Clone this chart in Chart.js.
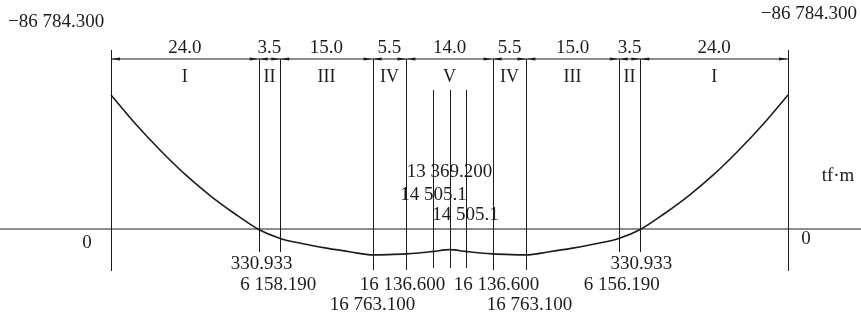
<!DOCTYPE html>
<html>
<head>
<meta charset="utf-8">
<script src="https://cdn.jsdelivr.net/npm/chart.js@4"></script>
<style>
  html, body { margin: 0; padding: 0; background: #fff; }
  #chart { display: block; }
</style>
</head>
<body>
<canvas id="chart" width="861" height="320"></canvas>
<script>
// Span segments (m) and their zone names
const segLengths = [24.0, 3.5, 15.0, 5.5, 14.0, 5.5, 15.0, 3.5, 24.0];
const segNames = ['I', 'II', 'III', 'IV', 'V', 'IV', 'III', 'II', 'I'];

// Bending moment curve (tf·m)
const stations = [0, 4, 8, 12, 16, 20, 24, 27.5, 31, 35, 39, 42.5, 45, 48, 50, 52.4, 55,
                  57.6, 60, 62, 65, 67.5, 71, 75, 79, 82.5, 86, 90, 94, 98, 102, 106, 110];
const moments = [-86784.3, -68000, -51000, -35500, -22000, -10200, 330.933, 6158.19, 9400,
                 12400, 14900, 16763.1, 16600, 16136.6, 15500, 14505.1, 13369.2,
                 14505.1, 15500, 16136.6, 16600, 16763.1, 14900, 12400, 9400, 6156.19,
                 330.933, -10200, -22000, -35500, -51000, -68000, -86784.3];

// Value labels under the axis
const lowStations = [24, 27.5, 42.5, 48, 62, 67.5, 82.5, 86];
const lowLabels = ['330.933', '6 158.190', '16 763.100', '16 136.600',
                   '16 136.600', '16 763.100', '6 156.190', '330.933'];
const lowRows = [0, 1, 2, 1, 1, 2, 1, 0];

// Value labels above the axis in zone V
const innerStations = [52.4, 55, 57.6];
const innerLabels = ['14 505.1', '13 369.200', '14 505.1'];
const innerRows = [1, 0, 2];

const endLabel = '−86 784.300';
const unitLabel = 'tf·m';

const boundaries = [0];
segLengths.forEach(l => boundaries.push(+(boundaries[boundaries.length - 1] + l).toFixed(2)));

const ink = '#1c1c1c';
const serif = '"Liberation Serif", "Times New Roman", serif';

const diagram = {
    id: 'diagram',
    beforeDatasetsDraw(chart) {
        const { ctx, chartArea } = chart;
        const xs = chart.scales.x, ys = chart.scales.y;
        const y0 = ys.getPixelForValue(0);
        const dimY = 59;
        ctx.save();
        ctx.strokeStyle = ink;
        ctx.lineWidth = 1;

        // zero axis
        ctx.beginPath();
        ctx.moveTo(chartArea.left, y0);
        ctx.lineTo(chartArea.right, y0);
        ctx.stroke();

        // dimension line
        const xl = xs.getPixelForValue(boundaries[0]);
        const xr = xs.getPixelForValue(boundaries[boundaries.length - 1]);
        ctx.beginPath();
        ctx.moveTo(xl, dimY);
        ctx.lineTo(xr, dimY);
        ctx.stroke();

        // arrow heads at each boundary
        ctx.fillStyle = ink;
        for (let i = 0; i < segLengths.length; i++) {
            const a = xs.getPixelForValue(boundaries[i]);
            const b = xs.getPixelForValue(boundaries[i + 1]);
            [[a, 1], [b, -1]].forEach(([px, dir]) => {
                ctx.beginPath();
                ctx.moveTo(px, dimY);
                ctx.lineTo(px + dir * 9, dimY - 1.6);
                ctx.lineTo(px + dir * 9, dimY + 1.6);
                ctx.closePath();
                ctx.fill();
            });
        }

        // vertical station lines
        const deep = [42.5, 48, 62, 67.5];
        boundaries.forEach((s, i) => {
            const px = Math.round(xs.getPixelForValue(s)) + 0.5;
            let top = dimY, bottom = 252;
            if (i === 0 || i === boundaries.length - 1) { top = 50; bottom = 271; }
            else if (deep.includes(s)) { bottom = 270; }
            ctx.beginPath();
            ctx.moveTo(px, top);
            ctx.lineTo(px, bottom);
            ctx.stroke();
        });
        innerStations.forEach(s => {
            const px = Math.round(xs.getPixelForValue(s)) + 0.5;
            ctx.beginPath();
            ctx.moveTo(px, 90);
            ctx.lineTo(px, 268);
            ctx.stroke();
        });
        ctx.restore();
    },
    afterDraw(chart) {
        const { ctx } = chart;
        const xs = chart.scales.x, ys = chart.scales.y;
        ctx.save();
        ctx.fillStyle = ink;
        ctx.textAlign = 'center';
        ctx.textBaseline = 'middle';

        // segment lengths and zone names
        for (let i = 0; i < segLengths.length; i++) {
            const mid = xs.getPixelForValue((boundaries[i] + boundaries[i + 1]) / 2);
            ctx.font = '19px ' + serif;
            ctx.fillText(segLengths[i].toFixed(1), mid, 48);
            ctx.font = '18px ' + serif;
            ctx.fillText(segNames[i], mid, 77);
        }

        ctx.font = '19px ' + serif;
        const rowY = [264, 285, 305];
        const nudge = [3, -2, 0, -4, 4, 3, 3, 1];
        lowLabels.forEach((t, i) => {
            ctx.fillText(t, xs.getPixelForValue(lowStations[i]) + nudge[i], rowY[lowRows[i]]);
        });
        const innerY = [172, 195, 215];
        innerLabels.forEach((t, i) => {
            ctx.fillText(t, xs.getPixelForValue(innerStations[i]), innerY[innerRows[i]]);
        });

        // end moments, zeros and unit
        ctx.textAlign = 'left';
        ctx.fillText(endLabel, 8, 22);
        ctx.textAlign = 'right';
        ctx.fillText(endLabel, 857, 14);
        ctx.textAlign = 'center';
        const y0 = ys.getPixelForValue(0);
        ctx.fillText('0', 87, y0 + 14);
        ctx.fillText('0', 806, y0 + 10);
        ctx.fillText(unitLabel, 838, 176);
        ctx.restore();
    }
};

// pixel mapping of the drawing: supports at x=111 and x=788, axis at y=229
const pxPerM = (788 - 111) / 110;
const xMin = -111 / pxPerM;
const xMax = (861 - 111) / pxPerM;
const pxPerUnit = (229 - 95) / 86784.3;
const yMin = -229 / pxPerUnit;
const yMax = (320 - 229) / pxPerUnit;

new Chart(document.getElementById('chart'), {
    type: 'line',
    data: {
        datasets: [{
            label: 'M',
            data: stations.map((s, i) => ({ x: s, y: moments[i] })),
            borderColor: ink,
            borderWidth: 1.6,
            pointRadius: 0,
            cubicInterpolationMode: 'monotone',
            fill: false,
        }]
    },
    options: {
        responsive: false,
        animation: false,
        devicePixelRatio: 1,
        layout: { padding: 0 },
        plugins: { legend: { display: false }, tooltip: { enabled: false } },
        scales: {
            x: { type: 'linear', display: false, min: xMin, max: xMax },
            y: { type: 'linear', display: false, reverse: true, min: yMin, max: yMax },
        }
    },
    plugins: [diagram]
});
</script>
</body>
</html>
